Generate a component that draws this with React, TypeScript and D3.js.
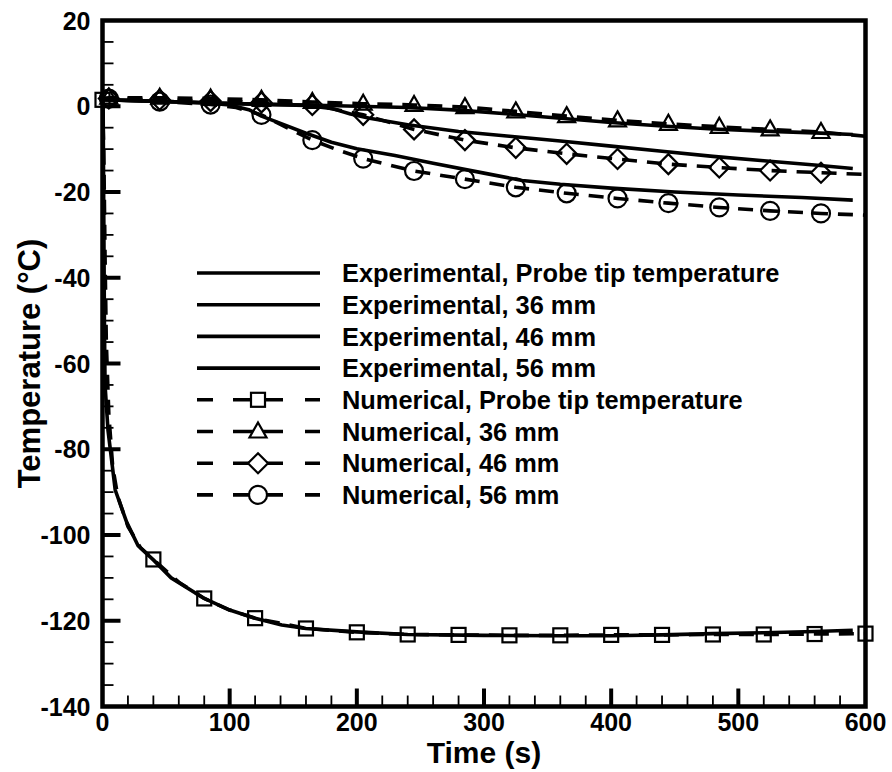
import React, { useRef, useEffect } from "react";
import * as d3 from "d3";

// experimental curves [time (s), temperature (°C)]
const expProbe: [number, number][] = [
  [0, 1.5], [0.5, 0], [1, -25], [1.5, -50], [2, -65], [4.3, -75.5], [10, -89.5],
  [19, -97], [28, -102.5], [40, -105.8], [54, -110], [80, -114.8], [100, -117.5],
  [120, -119.4], [141, -121], [160, -121.8], [200, -122.6], [240, -123.2], [300, -123.4],
  [360, -123.5], [400, -123.5], [440, -123.3], [480, -123], [520, -122.8], [560, -122.5],
  [590, -122.2],
];
const exp36: [number, number][] = [
  [0, 1.5], [40, 1.2], [80, 0.8], [120, 0.5], [160, 0.3], [200, 0], [240, -0.3],
  [280, -0.9], [320, -1.8], [360, -2.8], [400, -3.8], [440, -4.6], [480, -5.3],
  [520, -5.8], [560, -6.2], [590, -6.6],
];
const exp46: [number, number][] = [
  [0, 1.5], [40, 1.2], [80, 0.8], [120, 0.5], [160, 0.2], [180, -0.5], [195, -1.8],
  [210, -2.8], [240, -4.3], [280, -5.9], [320, -7.0], [360, -8.1], [400, -9.3],
  [440, -10.5], [480, -11.7], [520, -12.7], [560, -13.7], [590, -14.5],
];
const exp56: [number, number][] = [
  [0, 1.5], [40, 1.2], [80, 0.8], [100, 0.3], [115, -0.8], [125, -2.3], [140, -4.0],
  [160, -6.3], [180, -8.4], [200, -9.9], [230, -11.5], [260, -13.3], [300, -15.6],
  [330, -17.3], [360, -18.2], [400, -19.1], [450, -20.0], [500, -20.7], [550, -21.3],
  [590, -21.9],
];

// numerical curves
const numProbe: [number, number][] = [
  [0, 1.5], [1, -10], [2, -35], [3, -55], [5, -72], [8, -84], [12, -91], [20, -98],
  [30, -103], [40, -105.7], [60, -111], [80, -114.8], [100, -117.5], [120, -119.4],
  [160, -121.8], [200, -122.7], [240, -123.2], [280, -123.3], [320, -123.4],
  [360, -123.4], [400, -123.3], [440, -123.3], [480, -123.2], [520, -123.2],
  [560, -123.1], [600, -123.0],
];
const num36: [number, number][] = [
  [0, 1.8], [5, 2.0], [45, 2.0], [85, 1.8], [125, 1.5], [165, 1.0], [205, 0.6],
  [245, 0.3], [285, -0.2], [325, -1.2], [365, -2.3], [405, -3.3], [445, -4.1],
  [485, -4.8], [525, -5.4], [565, -6.0], [600, -7.0],
];
const num46: [number, number][] = [
  [0, 1.8], [5, 1.8], [45, 1.5], [85, 1.2], [125, 0.9], [165, 0.3], [205, -2.0],
  [245, -5.4], [285, -7.9], [325, -9.7], [365, -11.1], [405, -12.3], [445, -13.5],
  [485, -14.3], [525, -15.0], [565, -15.5], [600, -15.9],
];
const num56: [number, number][] = [
  [0, 1.8], [5, 1.8], [45, 1.1], [85, 0.4], [105, -0.3], [125, -2.0], [145, -5.0],
  [165, -7.9], [185, -10.2], [205, -12.2], [245, -15.1], [285, -17.0], [325, -18.9],
  [365, -20.3], [405, -21.5], [445, -22.6], [485, -23.6], [525, -24.4], [565, -25.0],
  [600, -25.4],
];

// times at which the numerical markers are drawn
const probeMarkTimes = [0, 40, 80, 120, 160, 200, 240, 280, 320, 360, 400, 440, 480, 520, 560, 600];
const probeMarkTimesDepth = [5, 45, 85, 125, 165, 205, 245, 285, 325, 365, 405, 445, 485, 525, 565];

const xTicks = [0, 100, 200, 300, 400, 500, 600];
const yTicks = [20, 0, -20, -40, -60, -80, -100, -120, -140];

const legendLabels = [
  "Experimental, Probe tip temperature",
  "Experimental, 36 mm",
  "Experimental, 46 mm",
  "Experimental, 56 mm",
  "Numerical, Probe tip temperature",
  "Numerical, 36 mm",
  "Numerical, 46 mm",
  "Numerical, 56 mm",
];

const FONT = "'Liberation Sans', Arial, Helvetica, sans-serif";

const App = () => {
  const svgRef = useRef<SVGSVGElement>(null);

  useEffect(() => {
    document.body.style.margin = "0";
    const svg = d3.select(svgRef.current);
    svg.selectAll("*").remove();

    const width = 892;
    const height = 772;
    const margin = { top: 20.5, right: 26.5, bottom: 65.5, left: 102.5 };

    const x = d3.scaleLinear().domain([0, 600]).range([margin.left, width - margin.right]);
    const y = d3.scaleLinear().domain([-140, 20]).range([height - margin.bottom, margin.top]);

    const line = d3
      .line<[number, number]>()
      .x((d) => x(d[0]))
      .y((d) => y(d[1]));

    const g = svg.append("g");

    // symbols
    const drawMarker = (sel: any, kind: string, cx: number, cy: number, fill: string) => {
      const s = sel.append("g").attr("transform", `translate(${cx},${cy})`);
      const attrs = (e: any) =>
        e.attr("fill", fill).attr("stroke", "#000").attr("stroke-width", 2.2);
      if (kind === "square") {
        s.append("rect").attr("x", -7).attr("y", -7).attr("width", 14).attr("height", 14).call(attrs);
      } else if (kind === "triangle") {
        s.append("path").attr("d", "M0,-9 L8.5,6 L-8.5,6 Z").call(attrs);
      } else if (kind === "diamond") {
        s.append("path").attr("d", "M0,-10 L10,0 L0,10 L-10,0 Z").call(attrs);
      } else {
        s.append("circle").attr("r", 9).call(attrs);
      }
    };

    const expSeries = [expProbe, exp36, exp46, exp56];
    const numSeries = [
      { data: numProbe, kind: "square", marks: probeMarkTimes },
      { data: num36, kind: "triangle", marks: probeMarkTimesDepth },
      { data: num46, kind: "diamond", marks: probeMarkTimesDepth },
      { data: num56, kind: "circle", marks: probeMarkTimesDepth },
    ];

    numSeries.forEach((s) => {
      g.append("path")
        .attr("d", line(s.data))
        .attr("fill", "none")
        .attr("stroke", "#000")
        .attr("stroke-width", 3.6)
        .attr("stroke-dasharray", "15,10");
    });

    expSeries.forEach((s) => {
      g.append("path")
        .attr("d", line(s))
        .attr("fill", "none")
        .attr("stroke", "#000")
        .attr("stroke-width", 3.6)
        .attr("stroke-linejoin", "round");
    });

    numSeries.forEach((s) => {
      s.data
        .filter((d) => s.marks.includes(d[0]))
        .forEach((d) => drawMarker(g, s.kind, x(d[0]), y(d[1]), "none"));
    });

    // frame
    svg
      .append("rect")
      .attr("x", x(0))
      .attr("y", y(20))
      .attr("width", x(600) - x(0))
      .attr("height", y(-140) - y(20))
      .attr("fill", "none")
      .attr("stroke", "#000")
      .attr("stroke-width", 4.5);

    // ticks
    const axes = svg.append("g").attr("stroke", "#000");
    d3.range(-135, 20, 5).forEach((v) => {
      const major = v % 20 === 0;
      axes
        .append("line")
        .attr("x1", x(0))
        .attr("x2", x(0) + (major ? 18 : 11))
        .attr("y1", y(v))
        .attr("y2", y(v))
        .attr("stroke-width", major ? 4 : 1.8);
    });
    d3.range(20, 600, 20).forEach((v) => {
      const major = v % 100 === 0;
      axes
        .append("line")
        .attr("x1", x(v))
        .attr("x2", x(v))
        .attr("y1", y(-140))
        .attr("y2", y(-140) - (major ? 18 : 11))
        .attr("stroke-width", major ? 4 : 1.8);
    });

    // tick labels
    svg
      .append("g")
      .selectAll("text")
      .data(yTicks)
      .join("text")
      .attr("x", x(0) - 12)
      .attr("y", (d) => y(d))
      .attr("dy", "0.36em")
      .attr("text-anchor", "end")
      .attr("font-family", FONT)
      .attr("font-weight", "bold")
      .attr("font-size", 25)
      .text((d) => d);

    svg
      .append("g")
      .selectAll("text")
      .data(xTicks)
      .join("text")
      .attr("x", (d) => x(d))
      .attr("y", y(-140) + 24)
      .attr("text-anchor", "middle")
      .attr("font-family", FONT)
      .attr("font-weight", "bold")
      .attr("font-size", 25)
      .text((d) => d);

    // axis titles
    svg
      .append("text")
      .attr("x", (x(0) + x(600)) / 2)
      .attr("y", 763)
      .attr("text-anchor", "middle")
      .attr("font-family", FONT)
      .attr("font-weight", "bold")
      .attr("font-size", 30)
      .text("Time (s)");

    svg
      .append("text")
      .attr("transform", `translate(40,${(y(20) + y(-140)) / 2}) rotate(-90)`)
      .attr("text-anchor", "middle")
      .attr("font-family", FONT)
      .attr("font-weight", "bold")
      .attr("font-size", 31)
      .text("Temperature (°C)");

    // legend
    const legend = svg.append("g");
    const kinds = ["square", "triangle", "diamond", "circle"];
    legendLabels.forEach((label, i) => {
      const ly = 273 + i * 31.7;
      const numerical = i >= 4;
      legend
        .append("line")
        .attr("x1", 197)
        .attr("x2", 320)
        .attr("y1", ly)
        .attr("y2", ly)
        .attr("stroke", "#000")
        .attr("stroke-width", 3.6)
        .attr("stroke-dasharray", numerical ? "16,20,50,22,15" : null);
      if (numerical) drawMarker(legend, kinds[i - 4], 258, ly, "#fff");
      legend
        .append("text")
        .attr("x", 342)
        .attr("y", ly)
        .attr("dy", "0.36em")
        .attr("font-family", FONT)
        .attr("font-weight", "bold")
        .attr("font-size", 25.4)
        .text(label);
    });
  }, []);

  return <svg ref={svgRef} width="892" height="772" style={{ display: "block", background: "#fff" }}></svg>;
};

export default App;
